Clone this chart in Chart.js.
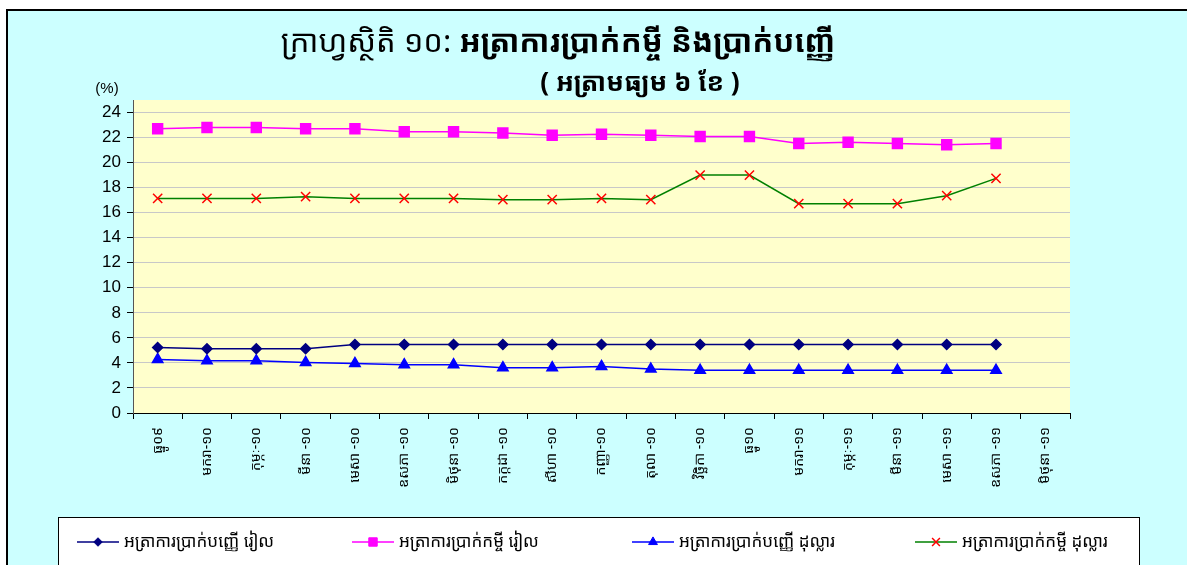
<!DOCTYPE html>
<html lang="km">
<head>
  <meta charset="UTF-8">
  <title>អត្រាការប្រាក់កម្ចី និងប្រាក់បញ្ញើ</title>
  <script src="https://cdn.jsdelivr.net/npm/chart.js"></script>
  <style>
    html, body { margin: 0; padding: 0; background: #fff; }
    #wrap { width: 1187px; height: 565px; position: relative; }
  </style>
</head>
<body>
  <div id="wrap"><canvas id="rates"></canvas></div>

  <script>
    // months (Dec-09 .. Jun-11)
    const months = ['ធ្នូ០៩', 'មករា-១០', 'កុម្ភៈ-១០', 'មីនា -១០', 'មេសា -១០', 'ឧសភា -១០', 'មិថុនា -១០',
      'កក្កដា -១០', 'សីហា -១០', 'កញ្ញា-១០', 'តុលា -១០', 'វិច្ឆិកា -១០', 'ធ្នូ១០', 'មករា-១១',
      'កុម្ភៈ-១១', 'មីនា -១១', 'មេសា -១១', 'ឧសភា -១១', 'មិថុនា -១១'];

    // 6-month average rates (%)
    const depositRiel  = [5.23, 5.13, 5.13, 5.13, 5.47, 5.47, 5.47, 5.47, 5.47, 5.47, 5.47, 5.47, 5.47, 5.47, 5.47, 5.47, 5.47, 5.47, null];
    const loanRiel     = [22.7, 22.8, 22.8, 22.7, 22.7, 22.47, 22.47, 22.36, 22.18, 22.26, 22.18, 22.08, 22.08, 21.53, 21.63, 21.53, 21.42, 21.53, null];
    const depositUsd   = [4.28, 4.17, 4.17, 4.04, 3.96, 3.86, 3.86, 3.62, 3.62, 3.72, 3.51, 3.41, 3.41, 3.41, 3.41, 3.41, 3.41, 3.41, null];
    const loanUsd      = [17.14, 17.14, 17.14, 17.28, 17.14, 17.14, 17.14, 17.04, 17.04, 17.14, 17.04, 19.0, 19.0, 16.72, 16.72, 16.72, 17.36, 18.74, null];

    const seriesNames = ['អត្រាការប្រាក់បញ្ញើ រៀល', 'អត្រាការប្រាក់កម្ចី រៀល', 'អត្រាការប្រាក់បញ្ញើ ដុល្លារ', 'អត្រាការប្រាក់កម្ចី ដុល្លារ'];
    const yTicks = [0, 2, 4, 6, 8, 10, 12, 14, 16, 18, 20, 22, 24];

    const KH = '"Khmer OS", "Khmer OS System", "Noto Sans Khmer", "Liberation Sans", sans-serif';
    const AR = '"Liberation Sans", Arial, sans-serif';

    // background, frame, plot area, titles, legend
    const frame = {
      id: 'frame',
      beforeDraw(chart) {
        const c = chart.ctx, a = chart.chartArea;
        c.save();
        c.fillStyle = '#fff';
        c.fillRect(0, 0, chart.width, chart.height);
        c.fillStyle = '#CCFFFF';
        c.fillRect(7, 10, chart.width - 7, chart.height - 10);
        c.strokeStyle = '#000';
        c.lineWidth = 2;
        c.beginPath();
        c.moveTo(7, chart.height); c.lineTo(7, 10); c.lineTo(chart.width, 10);
        c.stroke();
        c.fillStyle = '#FFFFCC';
        c.fillRect(a.left, a.top, a.right - a.left, a.bottom - a.top);
        c.restore();
      },
      afterDraw(chart) {
        const c = chart.ctx;
        c.save();
        // title
        const t1 = 'ក្រាហ្វស្ថិតិ ១០: ', t2 = 'អត្រាការប្រាក់កម្ចី និងប្រាក់បញ្ញើ';
        c.fillStyle = '#000';
        c.textBaseline = 'alphabetic';
        c.font = '31px ' + KH;
        const w1 = c.measureText(t1).width;
        c.font = 'bold 31px ' + KH;
        const w2 = c.measureText(t2).width;
        let x = 558 - (w1 + w2) / 2;
        c.font = '31px ' + KH;
        c.fillText(t1, x, 52);
        c.font = 'bold 31px ' + KH;
        c.fillText(t2, x + w1, 52);
        c.textAlign = 'center';
        c.font = 'bold 26px ' + KH;
        c.fillText('( អត្រាមធ្យម ៦ ខែ )', 640, 91);
        c.font = '15px ' + AR;
        c.fillText('(%)', 107, 93);

        // legend box
        c.fillStyle = '#fff';
        c.fillRect(58, 517, 1081, 60);
        c.strokeStyle = '#000';
        c.lineWidth = 1;
        c.strokeRect(58.5, 517.5, 1081, 60);
        const xs = [77, 352, 632, 915];
        const cy = 542;
        chart.data.datasets.forEach((ds, i) => {
          const lx = xs[i];
          c.strokeStyle = ds.borderColor;
          c.lineWidth = 1.5;
          c.beginPath(); c.moveTo(lx, cy); c.lineTo(lx + 42, cy); c.stroke();
          c.fillStyle = ds.pointBackgroundColor;
          c.strokeStyle = ds.pointBorderColor;
          c.lineWidth = ds.pointBorderWidth || 1;
          Chart.helpers.drawPoint(c, {
            pointStyle: ds.pointStyle, radius: ds.pointRadius * 0.85, rotation: 0, borderWidth: ds.pointBorderWidth || 1
          }, lx + 21, cy);
          c.fillStyle = '#000';
          c.textAlign = 'left';
          c.textBaseline = 'middle';
          c.font = '17px ' + KH;
          c.fillText(ds.label, lx + 47, cy);
        });
        c.restore();
      }
    };

    new Chart(document.getElementById('rates'), {
      type: 'line',
      data: {
        labels: months,
        datasets: [
          { label: seriesNames[0], data: depositRiel, borderColor: '#000080', pointBackgroundColor: '#000080', pointBorderColor: '#000080',
            pointStyle: 'rectRot', pointRadius: 5, borderWidth: 1.5 },
          { label: seriesNames[1], data: loanRiel, borderColor: '#FF00FF', pointBackgroundColor: '#FF00FF', pointBorderColor: '#FF00FF',
            pointStyle: 'rect', pointRadius: 7, borderWidth: 1.5 },
          { label: seriesNames[2], data: depositUsd, borderColor: '#0000FF', pointBackgroundColor: '#0000FF', pointBorderColor: '#0000FF',
            pointStyle: 'triangle', pointRadius: 6, borderWidth: 1.5 },
          { label: seriesNames[3], data: loanUsd, borderColor: '#008000', pointBackgroundColor: '#FF0000', pointBorderColor: '#FF0000',
            pointStyle: 'crossRot', pointRadius: 6.5, pointBorderWidth: 1.5, borderWidth: 1.5 }
        ]
      },
      options: {
        responsive: true,
        maintainAspectRatio: false,
        animation: false,
        layout: { padding: { left: 8, right: 117, top: 100, bottom: 48 } },
        plugins: {
          legend: { display: false },
          tooltip: { enabled: false }
        },
        scales: {
          x: {
            offset: true,
            grid: { offset: true, drawOnChartArea: false, tickLength: 6, tickColor: '#000' },
            border: { color: '#000' },
            ticks: { minRotation: 90, maxRotation: 90, autoSkip: false, color: '#000', padding: 8,
              font: { size: 14, family: KH } },
            afterFit: s => { s.height = 104; }
          },
          y: {
            min: 0, max: 25,
            afterBuildTicks: s => { s.ticks = yTicks.map(v => ({ value: v })); },
            grid: { color: '#C8C8C8', tickLength: 6, tickColor: '#000' },
            border: { color: '#555' },
            ticks: { color: '#000', padding: 6, font: { size: 17, family: AR } },
            afterFit: s => { s.width = 125; }
          }
        }
      },
      plugins: [frame]
    });
  </script>
</body>
</html>
